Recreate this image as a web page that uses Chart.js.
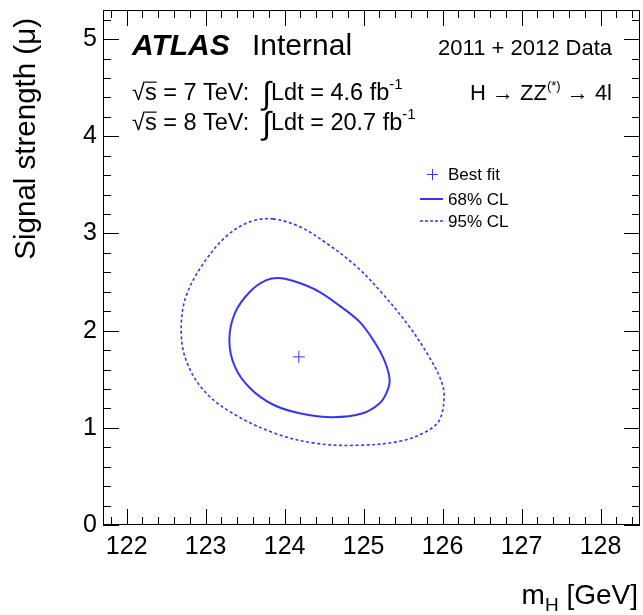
<!DOCTYPE html>
<html lang="en">
<head>
<meta charset="UTF-8">
<title>H to ZZ(*) to 4l - signal strength vs mH</title>
<style>
* { margin: 0; padding: 0; box-sizing: border-box; }
body { background: #fff; }
#wrap { width: 643px; height: 615px; }
</style>
</head>
<body>
<div id="wrap"><canvas id="contourChart" width="643" height="615"></canvas></div>
<script src="https://cdn.jsdelivr.net/npm/chart.js@4/dist/chart.umd.min.js"></script>
<script>
// axis ranges and tick labels
var xRange = [121.7, 128.5];
var yRange = [0, 5.3];
var xTickLabels = [122, 123, 124, 125, 126, 127, 128];
var yTickLabels = [0, 1, 2, 3, 4, 5];

// best fit
var bestFitMass = [124.18];
var bestFitMu = [1.73];

// 68% CL contour (closed by the loop plugin below)
var cl68Mass = [123.96, 124.19, 124.44, 124.69, 124.95, 125.14, 125.27, 125.33, 125.29, 125.20,
                124.99, 124.61, 124.19, 123.85, 123.56, 123.37, 123.30, 123.37, 123.56, 123.77];
var cl68Mu   = [2.54, 2.49, 2.40, 2.26, 2.09, 1.88, 1.68, 1.49, 1.36, 1.25,
                1.15, 1.11, 1.15, 1.24, 1.41, 1.63, 1.90, 2.18, 2.40, 2.52];

// 95% CL contour
var cl95Mass = [123.85, 124.19, 124.53, 124.91, 125.24, 125.58, 125.83, 125.98, 126.02, 125.96,
                125.79, 125.45, 124.91, 124.40, 123.89, 123.34, 122.97, 122.75, 122.69, 122.75,
                122.97, 123.26, 123.56];
var cl95Mu   = [3.15, 3.07, 2.90, 2.66, 2.38, 2.04, 1.73, 1.49, 1.32, 1.08,
                0.96, 0.86, 0.82, 0.84, 0.94, 1.15, 1.39, 1.70, 2.01, 2.35,
                2.69, 2.97, 3.12];

var BLUE = '#3535f2';
var FONT = '"Liberation Sans", Arial, sans-serif';

function toPoints(xs, ys) {
    return xs.map(function(x, i) { return { x: x, y: ys[i] }; });
}

// draws a row of text pieces: {t, size, dy, style, over}
function drawRich(ctx, x, y, parts, align) {
    var total = 0;
    parts.forEach(function(p) {
        ctx.font = (p.style || '') + ' ' + p.size + 'px ' + FONT;
        p.w = ctx.measureText(p.t).width;
        total += p.w;
    });
    if (align === 'right') x -= total;
    ctx.textAlign = 'left';
    ctx.textBaseline = 'alphabetic';
    parts.forEach(function(p) {
        ctx.font = (p.style || '') + ' ' + p.size + 'px ' + FONT;
        ctx.fillText(p.t, x, y + (p.dy || 0));
        if (p.over) {
            ctx.beginPath();
            ctx.lineWidth = 1.2;
            ctx.moveTo(x, y - p.size * 0.76);
            ctx.lineTo(x + p.w, y - p.size * 0.76);
            ctx.stroke();
        }
        x += p.w;
    });
}

// close the two contour lines (same trick the radar chart uses)
var closeContours = {
    id: 'closeContours',
    afterDatasetsUpdate: function(chart) {
        [0, 1].forEach(function(i) {
            var line = chart.getDatasetMeta(i).dataset;
            line._loop = true;
            line._fullLoop = true;
        });
    }
};

var rootFrame = {
    id: 'rootFrame',
    afterDraw: function(chart) {
        var ctx = chart.ctx;
        var a = chart.chartArea;
        var xs = chart.scales.x, ys = chart.scales.y;
        ctx.save();
        ctx.strokeStyle = '#000';
        ctx.fillStyle = '#000';
        ctx.lineWidth = 1;

        // frame
        ctx.strokeRect(a.left + 0.5, a.top + 0.5, a.right - a.left - 1, a.bottom - a.top - 1);

        // ticks on all four sides
        ctx.beginPath();
        var k, v, p, len;
        for (k = Math.ceil(xRange[0] * 5); k <= Math.floor(xRange[1] * 5); k++) {
            v = k / 5;
            p = Math.round(xs.getPixelForValue(v)) + 0.5;
            len = (k % 5 === 0) ? 16 : 8;
            ctx.moveTo(p, a.bottom); ctx.lineTo(p, a.bottom - len);
            ctx.moveTo(p, a.top); ctx.lineTo(p, a.top + len);
        }
        for (k = Math.ceil(yRange[0] * 5); k <= Math.floor(yRange[1] * 5); k++) {
            v = k / 5;
            p = Math.round(ys.getPixelForValue(v)) + 0.5;
            len = (k % 5 === 0) ? 16 : 8;
            ctx.moveTo(a.left, p); ctx.lineTo(a.left + len, p);
            ctx.moveTo(a.right, p); ctx.lineTo(a.right - len, p);
        }
        ctx.stroke();

        // axis titles
        drawRich(ctx, 638, 604, [
            { t: 'm', size: 28 },
            { t: 'H', size: 19, dy: 7 },
            { t: ' [GeV]', size: 28 }
        ], 'right');
        ctx.save();
        ctx.translate(35, 18);
        ctx.rotate(-Math.PI / 2);
        drawRich(ctx, 0, 0, [{ t: 'Signal strength (\u03bc)', size: 29.5 }], 'right');
        ctx.restore();

        // labels
        drawRich(ctx, 132, 55, [{ t: 'ATLAS', size: 30, style: 'italic bold' }]);
        drawRich(ctx, 252, 55, [{ t: 'Internal', size: 30 }]);
        drawRich(ctx, 612, 55, [{ t: '2011 + 2012 Data', size: 22 }], 'right');
        drawRich(ctx, 132, 100, [
            { t: '\u221a', size: 23.5 }, { t: 's', size: 23.5, over: true },
            { t: ' = 7 TeV:  ', size: 23.5 },
            { t: '\u222b', size: 32, dy: 4 },
            { t: 'Ldt = 4.6 fb', size: 23.5 },
            { t: '-1', size: 15, dy: -11 }
        ]);
        drawRich(ctx, 132, 130, [
            { t: '\u221a', size: 23.5 }, { t: 's', size: 23.5, over: true },
            { t: ' = 8 TeV:  ', size: 23.5 },
            { t: '\u222b', size: 32, dy: 4 },
            { t: 'Ldt = 20.7 fb', size: 23.5 },
            { t: '-1', size: 15, dy: -11 }
        ]);
        drawRich(ctx, 612, 100, [
            { t: 'H \u2192 ZZ', size: 22 },
            { t: '(*)', size: 13, dy: -10 },
            { t: ' \u2192 4l', size: 22 }
        ], 'right');

        // legend
        ctx.strokeStyle = BLUE;
        ctx.lineWidth = 1;
        ctx.beginPath();
        ctx.moveTo(427, 174.5); ctx.lineTo(438, 174.5);
        ctx.moveTo(432.5, 169); ctx.lineTo(432.5, 180);
        ctx.stroke();
        ctx.lineWidth = 2;
        ctx.beginPath();
        ctx.moveTo(420, 199); ctx.lineTo(443, 199);
        ctx.stroke();
        ctx.lineWidth = 1.6;
        ctx.setLineDash([3, 2]);
        ctx.beginPath();
        ctx.moveTo(420, 221); ctx.lineTo(443, 221);
        ctx.stroke();
        ctx.setLineDash([]);
        drawRich(ctx, 448, 180, [{ t: 'Best fit', size: 17 }]);
        drawRich(ctx, 448, 205, [{ t: '68% CL', size: 17 }]);
        drawRich(ctx, 448, 227, [{ t: '95% CL', size: 17 }]);
        ctx.restore();
    }
};

var ctx = document.getElementById('contourChart').getContext('2d');
var contourChart = new Chart(ctx, {
    type: 'scatter',
    data: {
        datasets: [
            {
                label: '95% CL',
                data: toPoints(cl95Mass, cl95Mu),
                showLine: true,
                borderColor: BLUE,
                borderWidth: 1.6,
                borderDash: [3, 2.5],
                pointRadius: 0,
                tension: 0.35,
                fill: false
            },
            {
                label: '68% CL',
                data: toPoints(cl68Mass, cl68Mu),
                showLine: true,
                borderColor: BLUE,
                borderWidth: 2,
                pointRadius: 0,
                tension: 0.35,
                fill: false
            },
            {
                label: 'Best fit',
                data: toPoints(bestFitMass, bestFitMu),
                pointStyle: 'cross',
                pointRadius: 6,
                borderColor: BLUE,
                borderWidth: 1,
                backgroundColor: BLUE
            }
        ]
    },
    options: {
        responsive: false,
        animation: false,
        layout: { autoPadding: false, padding: { top: 10, right: 3, left: 0, bottom: 0 } },
        plugins: {
            legend: { display: false },
            tooltip: { enabled: false }
        },
        scales: {
            x: {
                type: 'linear',
                min: xRange[0],
                max: xRange[1],
                grid: { display: false, drawTicks: false },
                border: { display: false },
                afterFit: function(s) {
                    s.height = 90;
                    s.paddingLeft = 0; s.paddingRight = 0;
                },
                afterBuildTicks: function(s) {
                    s.ticks = xTickLabels.map(function(v) { return { value: v }; });
                },
                ticks: {
                    padding: 7,
                    color: '#000',
                    maxRotation: 0,
                    autoSkip: false,
                    font: { family: 'Liberation Sans', size: 25 }
                }
            },
            y: {
                type: 'linear',
                min: yRange[0],
                max: yRange[1],
                grid: { display: false, drawTicks: false },
                border: { display: false },
                afterFit: function(s) {
                    s.width = 103;
                    s.paddingTop = 0; s.paddingBottom = 0;
                },
                afterBuildTicks: function(s) {
                    s.ticks = yTickLabels.map(function(v) { return { value: v }; });
                },
                ticks: {
                    padding: 6,
                    color: '#000',
                    autoSkip: false,
                    font: { family: 'Liberation Sans', size: 25 }
                }
            }
        }
    },
    plugins: [closeContours, rootFrame]
});
</script>
</body>
</html>
